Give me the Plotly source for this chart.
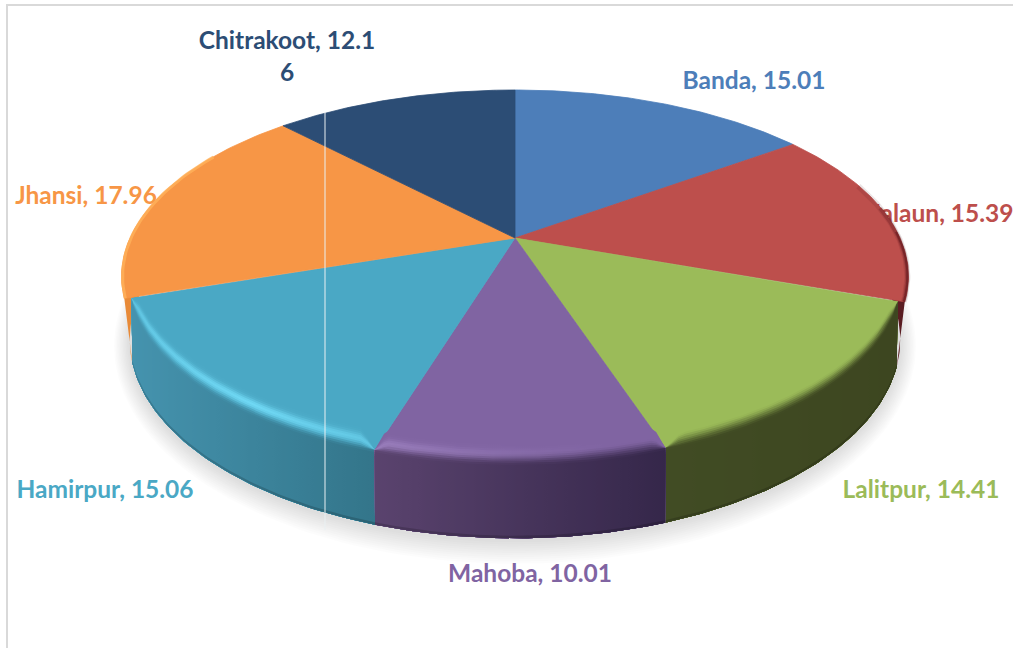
# -*- coding: utf-8 -*-
"""Camembert 3D (perspective) dessiné avec des polygones Scatter."""

import numpy as np
import plotly.graph_objects as go

districts = ["Banda", "Jalaun", "Lalitpur", "Mahoba", "Hamirpur", "Jhansi", "Chitrakoot"]
shares = [15.01, 15.39, 14.41, 10.01, 15.06, 17.96, 12.16]
labels = [
    "Banda, 15.01",
    "Jalaun, 15.39",
    "Lalitpur, 14.41",
    "Mahoba, 10.01",
    "Hamirpur, 15.06",
    "Jhansi, 17.96",
    "Chitrakoot, 12.1<br>6",
]
colors = ["#4d7eb9", "#bd4f4c", "#9bbb59", "#8064a2", "#4aa8c5", "#f79646", "#2c4d75"]

label_x = [754, 942, 921, 530, 105, 86, 287]
label_y = [83, 216, 492, 576, 492, 198, 59]

# géométrie de la perspective
CX, CY = 515, 238
K = 0.206
A_BACK, A_FRONT, B = 385, 378, 178.5
A_WALL, CY_WALL, B_WALL = 377, 299, 190

# côtés : couleur gauche / droite du flanc, reflet, début/fin du biseau, pic du reflet,
# largeur (en degrés) du raccord du biseau à chaque bout de la part
walls = {
    "Lalitpur": ("#414c24", "#3d4620", None, -14, 1, 0, 6, 2),
    "Mahoba": ("#5a436e", "#35274a", "#ab8fcf", -13, 2, -9, 1.5, 1.5),
    "Hamirpur": ("#4593ae", "#33758a", "#6fd8f4", -8, 2, -10, 1.5, 6),
}


def project(theta, a, cy, b, offset=0.0):
    t = np.radians(theta)
    u, v = np.sin(t), -np.cos(t)
    w = 1 - K * v
    return CX + a * u / w, cy + b * v / w + offset


def to_rgb(c):
    return np.array([int(c[i:i + 2], 16) for i in (1, 3, 5)], dtype=float)


def mix(c1, c2, s):
    return c1 + (c2 - c1) * s


def smooth(d, d0, d1):
    s = np.clip((d - d0) / (d1 - d0), 0, 1)
    return s * s * (3 - 2 * s)


def css(c):
    return "rgb(%d,%d,%d)" % tuple(np.round(c))


def highlight(theta):
    if theta < 215:
        return float(np.clip((theta - 168) / 47, 0, 1))
    return float(1 - 0.45 * (theta - 215) / 37)


fig = go.Figure()


def poly(x, y, color, edge=0):
    fig.add_trace(go.Scatter(x=x, y=y, mode="lines", fill="toself", fillcolor=color,
                             line=dict(width=edge, color=color), hoverinfo="skip", showlegend=False))


# ombre portée sous le camembert
th_all = np.linspace(0, 360, 241)
for grow in range(22, 0, -2):
    sx, sy = project(th_all, A_WALL + grow * 0.7, CY_WALL + 2, B_WALL + grow * 0.85)
    poly(sx, sy, "rgba(0,0,0,0.012)")

# étiquettes sous le camembert (le J de Jalaun passe derrière)
fig.add_trace(go.Scatter(
    x=label_x, y=label_y, text=labels, mode="text",
    textfont=dict(family="Lato", size=24.5, weight=700, color=colors),
    hoverinfo="skip", showlegend=False,
))

# angles des parts
edges = 360 * np.cumsum([0] + shares) / sum(shares)
idx = {name: i for i, name in enumerate(districts)}

# flancs arrière visibles sur les bords
for name, t0, t1, c in [("Jalaun", 80, edges[2], "#5a1d22"), ("Jhansi", edges[5], 285, "#e88a38")]:
    th = np.linspace(t0, t1, 40)
    x1, y1 = project(th, A_BACK, CY, B)
    x2, y2 = project(th, A_WALL, CY_WALL, B_WALL)
    poly(np.r_[x1, x2[::-1]], np.r_[y1, y2[::-1]], c)

# faces du dessus
for i, name in enumerate(districts):
    a = A_FRONT if name in walls else A_BACK
    th = np.linspace(edges[i], edges[i + 1], 80)
    x, y = project(th, a, CY, B)
    poly(np.r_[CX, x, CX], np.r_[CY, y, CY], colors[i], edge=0.8)

# bords du dessus : rouge assombri, orange éclairci
for t0, width, alpha in [(72, 6, 0.10), (80, 4, 0.2), (88, 2, 0.35)]:
    th = np.linspace(t0, edges[2], 60)
    rx, ry = project(th, A_BACK - 1, CY, B)
    fig.add_trace(go.Scatter(x=rx, y=ry, mode="lines", hoverinfo="skip", showlegend=False,
                             line=dict(color="rgba(60,0,10,%.2f)" % alpha, width=width)))
th = np.linspace(edges[5], 300, 40)
ox, oy = project(th, A_BACK - 1, CY, B)
fig.add_trace(go.Scatter(x=ox, y=oy, mode="lines", hoverinfo="skip", showlegend=False,
                         line=dict(color="rgba(255,178,90,0.8)", width=3)))

# flancs avant : bandes superposées du biseau vers le bas
rows = np.arange(-22, 7, 2.0)
for name in ["Lalitpur", "Hamirpur", "Mahoba"]:
    i = idx[name]
    left, right, hi, d0, d1, peak, t_start, t_end = walls[name]
    face, left, right = to_rgb(colors[i]), to_rgb(left), to_rgb(right)
    th = np.linspace(edges[i], edges[i + 1], 60)
    xb, yb = project(th, A_WALL, CY_WALL, B_WALL)
    # le biseau s'annule aux coins de la part pour rester dedans
    taper = np.clip(np.minimum((th - edges[i]) / t_start, (edges[i + 1] - th) / t_end), 0, 1)
    for d in rows:
        offs = d * taper if d < 0 else d * np.ones_like(th)
        xt, yt = project(th, A_FRONT, CY, B, offs)
        xs = np.r_[xt, xb[::-1]]
        ys = np.r_[yt, yb[::-1]]
        lo, up = xs.min(), xs.max()
        stops = []
        for a, px in sorted(zip(th, xt), key=lambda p: p[1]):
            frac = (px - xt.min()) / (xt.max() - xt.min())
            c = mix(face, mix(left, right, frac), smooth(d, d0, d1))
            if hi is not None:
                g = highlight(a) * np.exp(-((d - peak) / 5.0) ** 2)
                c = mix(c, to_rgb(hi), g)
            stops.append([(px - lo) / (up - lo), css(c)])
        stops = [[0, stops[0][1]]] + stops + [[1, stops[-1][1]]]
        fig.add_trace(go.Scatter(
            x=xs, y=ys, mode="lines", fill="toself", line=dict(width=0),
            fillgradient=dict(type="horizontal", colorscale=stops, start=lo, stop=up),
            hoverinfo="skip", showlegend=False,
        ))
    # liseré sombre en bas du flanc
    xu, yu = project(th, A_WALL, CY_WALL, B_WALL, -2.5)
    poly(np.r_[xu, xb[::-1]], np.r_[yu, yb[::-1]], "rgba(0,0,0,0.16)")

# trait blanc vertical et cadre gris du graphique
fig.add_shape(type="line", x0=325, x1=325, y0=112, y1=530, line=dict(color="#e9f0f2", width=1))
fig.add_shape(type="line", x0=7, x1=7, y0=5, y1=648, line=dict(color="#d9d9d9", width=2))
fig.add_shape(type="line", x0=6, x1=1013, y0=5, y1=5, line=dict(color="#d9d9d9", width=2))

fig.update_layout(
    width=1013, height=648,
    margin=dict(l=0, r=0, t=0, b=0),
    paper_bgcolor="white", plot_bgcolor="white",
    showlegend=False,
    xaxis=dict(range=[0, 1013], visible=False, fixedrange=True),
    yaxis=dict(range=[648, 0], visible=False, fixedrange=True),
)

fig.write_html("out.html", config={"displayModeBar": False},
               post_script="document.body.style.margin='0';document.body.style.overflow='hidden';")
